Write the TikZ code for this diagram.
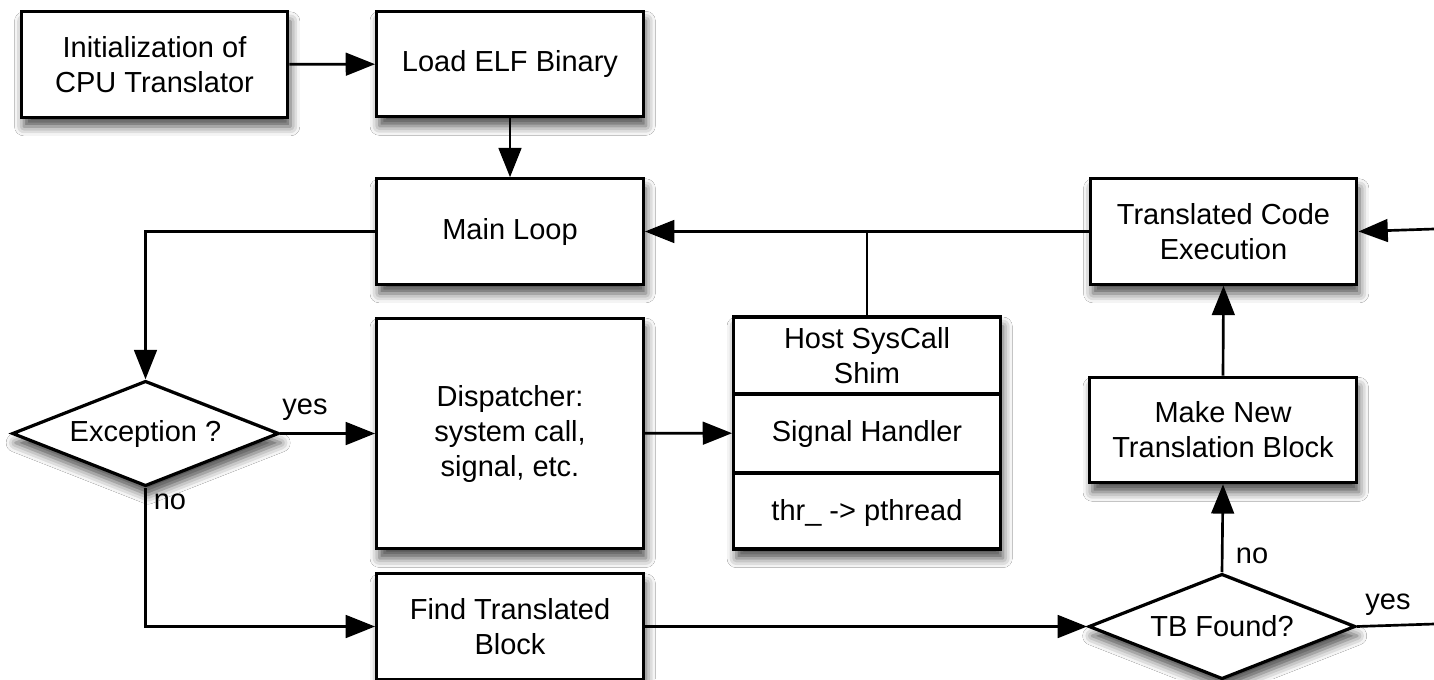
\documentclass[tikz,border=0pt]{standalone}
\usepackage{fontspec}
\setmainfont{Liberation Sans}
\usetikzlibrary{shapes.geometric,shadows.blur,arrows.meta}
\begin{document}
\begin{tikzpicture}[x=0.75pt,y=-0.75pt,
  shad/.style={blur shadow={shadow xshift=2pt,shadow yshift=-7pt,shadow blur radius=7pt,shadow opacity=70}},
  box/.style={draw=black,line width=2.4pt,fill=white,minimum width=200pt,minimum height=79pt,
    align=center,inner sep=0pt,font=\fontsize{21.75}{26.25}\selectfont,shad},
  dia/.style={diamond,draw=black,line width=2.4pt,fill=white,minimum width=200pt,minimum height=79pt,
    aspect=2.5,inner sep=0pt,align=center,font=\fontsize{21.75}{26.25}\selectfont,shad},
  txt/.style={align=center,inner sep=0pt,font=\fontsize{21.75}{26.25}\selectfont},
  lbl/.style={inner sep=0pt,font=\fontsize{21.75}{26.25}\selectfont},
  conn/.style={line width=2pt},
  arr/.style={conn,-{Triangle[length=22pt,width=17pt]}}
]
\fill[white] (0,0) rectangle (1434,679);
\useasboundingbox (0,0) rectangle (1434,679);

% boxes
\node[box] (init) at (154.5,64.5) {Initialization of\\CPU Translator};
\node[box] (load) at (510,64) {Load ELF Binary};
\node[box] (main) at (510,231.5) {Main Loop};
\node[box] (tce) at (1223.5,231.5) {Translated Code\\Execution};
\node[box,minimum height=173pt] (disp) at (510,433.5) {Dispatcher:\\system call,\\signal, etc.};
\node[box] (find) at (510,626.5) {Find Translated\\Block};
\node[box,minimum height=174pt] (host) at (867,433) {};
\node[box] (make) at (1223,430) {Make New\\Translation Block};

% diamonds
\node[dia] (exc) at (145.5,433.5) {Exception ?};
\node[dia] (tb) at (1222,626.5) {TB Found?};

% host compartments
\draw[line width=2.4pt] ([yshift=29.25pt]host.west) -- ([yshift=29.25pt]host.east);
\draw[line width=2.4pt] ([yshift=-30pt]host.west) -- ([yshift=-30pt]host.east);
\node[txt] (hosttop) at (867,356) {Host SysCall\\Shim};
\node[txt] (hostsig) at (867,434) {Signal Handler};
\node[txt] (hostthr) at (867,513) {thr\_ -> pthread};

% connectors
\draw[arr] (init) -- (load);
\draw[arr] (load) -- (main);
\draw[arr] (main.west) -| (exc.north);
\draw[arr] (tce) -- (main);
\draw[conn] (host.north) -- (host.north |- main.east);
\draw[arr] (exc.east) -- (disp.west);
\draw[arr] (disp) -- (host);
\draw[arr] (exc.south) |- (find.west);
\draw[arr] (find.east) -- (tb.west);
\draw[arr] (tb.north) -- (make.south);
\draw[arr] (make.north) -- (tce.south);
\coordinate (yesend) at (1434,624);
\draw[conn] (tb.east) -- (yesend);
\coordinate (tcein) at (1434,229);
\draw[arr] (tcein) -- (tce.east);

% labels
\node[lbl] (yes1) at (305,410) {yes};
\node[lbl] (no1) at (170,502) {no};
\node[lbl] (no2) at (1252,556) {no};
\node[lbl] (yes2) at (1388,605) {yes};
\end{tikzpicture}
\end{document}
